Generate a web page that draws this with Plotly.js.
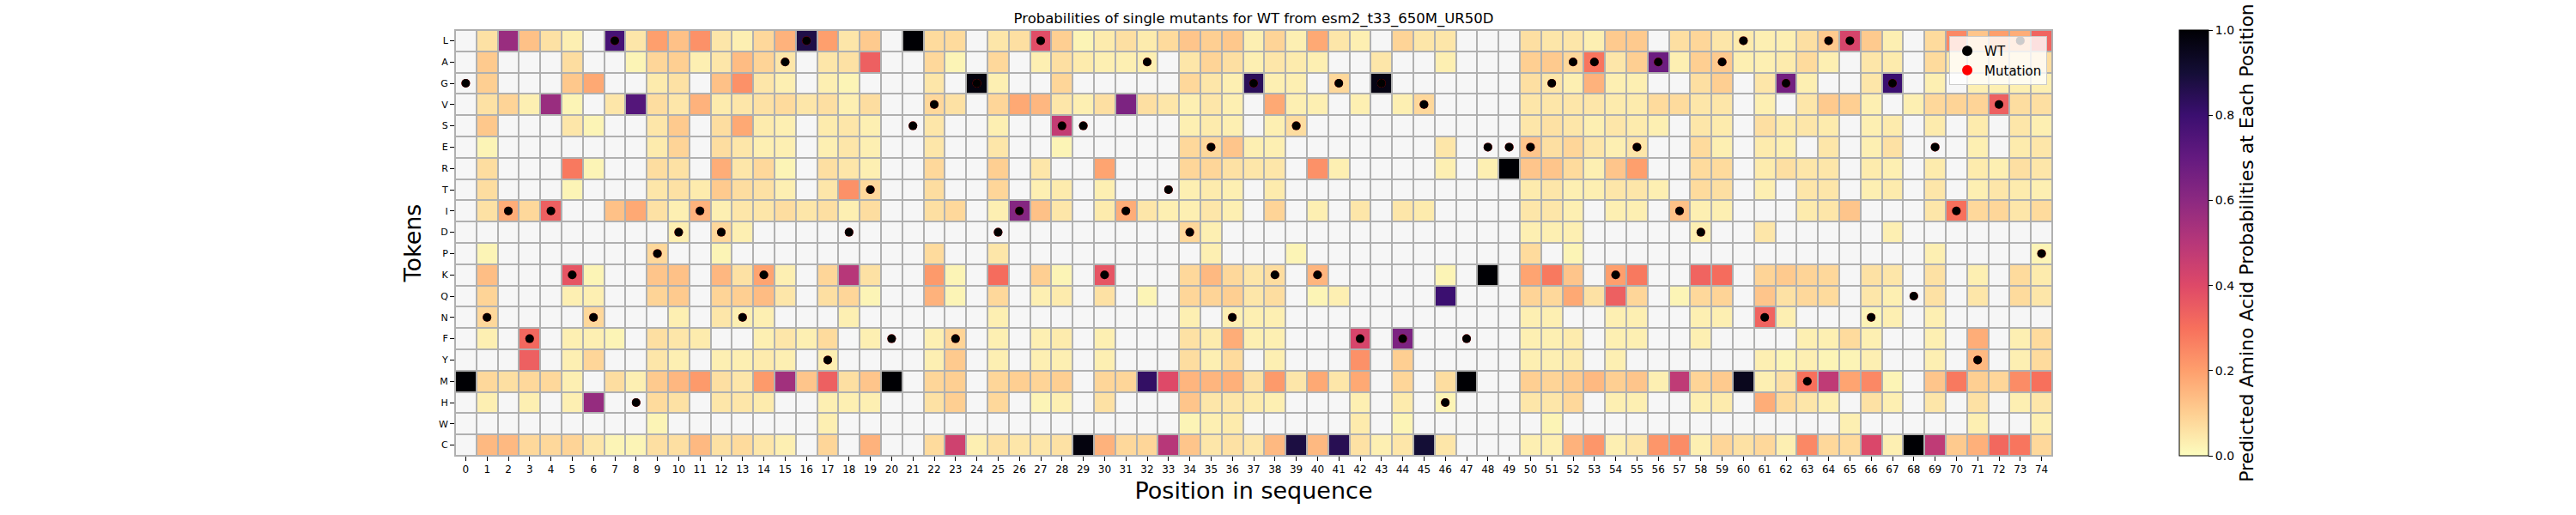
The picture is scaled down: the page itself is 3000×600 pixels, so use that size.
<!DOCTYPE html>
<html>
<head>
<meta charset="utf-8">
<script src="https://cdn.plot.ly/plotly-3.0.1.min.js"></script>
<style>
  body { margin: 0; background: #fff; }
  #heatmap_container { width: 3000px; height: 600px; }
</style>
</head>
<body>
<div id="heatmap_container"></div>
<script>
var _ = null; // masked cell (drawn grey)

var tokens = ['L', 'A', 'G', 'V', 'S', 'E', 'R', 'T', 'I', 'D', 'P', 'K', 'Q', 'N', 'F', 'Y', 'M', 'H', 'W', 'C'];
var positions = [];
for (var p = 0; p < 75; p++) positions.push(p);

var wtSeq = 'GNIFIKNLHPDIDNKALYDTFSVFGDILSSKIATDENGKSKGFGFVHFEEEGAAKEAIDALNGMLLNGQEIYVLP';
var mutSeq = wtSeq; // no visible difference to WT in the picture

// predicted probability per token, positions 0..74
var rowL = [_, .06, .57, .13, .06, .03, _, .77, .05, .20, .13, .23, .05, .03, .08, .16, .87, .20, .05,
  .11, _, 1.0, .075, .075, _, .05, .065, .39, .10, .02, .04, .065, .04, .075, .12, .10, .115, .03,
  .09, .03, .18, .05, .03, _, .09, .05, .05, _, _, _, .065, .05, .05, .03, .11, .11, _,
  .065, .085, .05, .04, .03, .03, .065, .11, .42, .11, .03, _, .075, .25, .12, .20, .17, .33];
var rowA = [_, .11, _, _, _, .07, _, _, .02, .085, .10, .03, .05, .14, .09, .05, _, .05, .06,
  .34, _, _, .08, .02, _, .08, _, .03, .065, .04, .03, .03, .03, _, .05, .09, .065, .03,
  .05, .04, .03, _, _, .05, _, _, .03, _, _, _, .10, .11, .08, .29, .05, .10, .68,
  .03, .10, .11, .03, .03, .04, .075, .03, _, .05, .04, _, .075, .05, .05, .07, .05, .07];
var rowG = [_, .10, _, _, _, .115, .18, _, _, .04, .06, _, .13, .23, .05, .03, _, .03, .02,
  _, _, _, .05, _, .98, .03, _, _, .085, _, _, _, _, _, .08, .05, .03, .84,
  .03, .03, _, .08, _, .97, _, _, _, _, _, _, .065, .05, .03, .16, .03, .03, _,
  _, .065, .10, _, .05, .66, .03, _, _, .05, .80, _, .03, _, .03, .03, .03, .03];
var rowV = [_, .06, .09, .03, .57, .02, _, .05, .74, .07, .05, .16, .04, .05, .06, .075, .05, .065, .03,
  .07, _, _, .08, .06, _, .085, .18, .15, .05, .03, .065, .64, .065, .05, .03, .05, .03, _,
  .18, .03, .03, _, .03, _, .03, .08, _, _, _, _, .05, .05, .05, .05, .04, .04, .075,
  .075, .05, .05, _, .03, _, .05, .11, .10, .03, _, .03, .08, .09, .09, .34, .07, .065];
var rowS = [_, .115, _, _, _, .05, .02, _, _, .05, .11, _, .07, .18, .04, .03, _, .04, .05,
  .03, _, _, .05, _, _, .03, _, _, .47, _, _, _, _, _, .03, .04, .03, _,
  .03, .07, _, _, _, _, _, _, _, _, _, _, .05, .06, .05, .03, .05, .04, .03,
  _, .05, .04, _, .065, .04, .05, .04, _, .03, .04, _, .04, _, .04, _, .05, .03];
var rowE = [_, .02, _, _, _, _, _, _, _, .04, .09, _, .07, .05, .03, .03, _, .03, .05,
  .03, _, _, .05, _, _, .05, _, _, .02, _, _, _, _, _, .08, .08, .12, .03,
  .03, _, _, _, _, _, _, _, .05, _, _, _, .12, .065, .085, .05, .03, .05, _,
  _, .075, .03, _, .04, .03, _, .05, _, .03, .06, _, _, _, .03, _, .04, .05];
var rowR = [_, .07, _, _, _, .28, .02, _, _, .07, .06, _, .17, .05, .08, .02, _, .065, .05,
  .03, _, _, .08, _, _, .10, _, .05, _, _, .19, _, _, _, .085, .085, .06, .05,
  .05, _, .23, .03, _, _, _, _, .03, _, .03, 1.0, .12, .12, .075, .03, .12, .20, _,
  _, .075, .075, _, .04, .065, .05, .05, _, .04, .03, _, .04, _, .04, .03, .065, .05];
var rowT = [_, .07, _, _, _, .02, _, _, _, .05, .06, .04, .11, .07, .06, .03, _, .05, .23,
  .08, _, _, .07, _, _, .085, _, .03, .04, _, .03, _, _, _, .03, .04, .03, _,
  .04, _, _, _, _, _, _, _, _, _, _, _, .04, .05, .03, .03, .05, .05, .03,
  _, .075, .065, _, .03, _, .05, .05, _, .03, .04, _, .05, _, .03, .05, .04, .03];
var rowI = [_, .06, .17, .08, .34, _, _, .13, .18, .06, .03, .16, .03, .05, .05, .07, .05, .065, .03,
  .07, _, _, .065, .08, _, .03, .62, .13, .05, _, .04, .17, .05, .03, .03, .05, .03, _,
  .09, _, .03, _, .05, _, .05, .04, _, _, _, _, .05, .05, .03, _, .03, .03, _,
  .13, .03, .03, _, _, _, .04, .05, .12, _, _, _, .05, .30, .08, .085, .05, .075];
var rowD = [_, _, _, _, _, _, _, _, _, _, .03, _, .08, .03, _, _, _, _, _,
  _, _, _, _, _, _, _, _, _, _, _, _, _, _, _, .08, .03, _, _,
  _, _, _, _, _, _, _, _, _, _, _, _, .03, .03, .03, _, _, _, _,
  _, .03, _, _, .05, _, _, _, _, _, .03, _, _, _, _, _, _, _];
var rowP = [_, .02, _, _, _, _, _, _, _, .08, _, _, .02, _, _, _, _, _, _,
  _, _, _, .075, _, _, .05, _, _, _, _, _, _, _, _, _, .03, _, _,
  _, .02, _, _, _, _, _, _, _, _, _, _, .075, _, .02, _, _, _, _,
  _, _, _, _, _, _, _, _, _, _, _, _, .03, _, _, _, _, .02];
var rowK = [_, .135, _, _, _, .37, .02, _, _, .12, .13, _, .15, .06, .19, .03, _, .085, .50,
  .06, _, _, .21, .02, _, .31, _, .10, .02, _, .37, _, _, _, .08, .145, .08, .05,
  .07, _, .155, _, _, _, _, _, .02, _, 1.0, _, .19, .28, .12, _, .20, .28, _,
  _, .33, .31, _, .09, .11, .09, .08, _, .06, .05, _, .06, _, .03, _, .075, .04];
var rowQ = [_, .09, _, _, _, .03, .03, _, _, .09, .11, _, .09, .10, .14, .05, _, .065, .085,
  .02, _, _, .16, .02, _, .08, _, .03, .04, _, .06, _, .02, _, .085, .09, .10, .05,
  .07, _, .02, .03, _, _, _, _, .80, _, _, _, .09, .08, .18, .06, .34, .085, _,
  .02, .08, .09, _, .12, .06, .08, .075, _, .05, .03, _, .06, _, .05, _, .075, .05];
var rowN = [_, .08, _, _, _, _, .08, _, _, _, .03, _, .05, .03, .03, _, _, _, .03,
  _, _, _, _, _, _, .03, _, _, _, _, _, _, _, _, .03, _, .03, .03,
  .03, _, _, _, _, _, _, _, _, _, _, _, .03, .03, _, _, .03, .03, _,
  _, .03, .03, _, .33, .03, _, _, _, .02, .03, _, .03, _, _, _, _, _];
var rowF = [_, .03, _, .32, _, .03, .03, .02, _, .065, .05, .04, _, _, .03, .05, .03, .075, _,
  .03, _, _, .03, .09, _, .03, _, .03, .04, _, .03, _, _, _, .06, .04, .17, .03,
  .03, _, _, _, .42, _, .64, _, _, _, _, _, .03, .03, .04, _, .03, .03, _,
  _, .03, _, _, _, _, .03, .03, .075, .03, _, _, .03, _, .17, _, .03, .075];
var rowY = [_, _, _, .34, _, .03, .085, _, _, .05, .03, _, .03, .03, .04, .03, _, .03, _,
  _, _, _, .03, .11, _, .03, _, .03, .03, _, .03, _, _, _, .07, .03, .075, _,
  .03, _, _, _, .23, _, .10, _, _, _, _, _, .03, .03, .04, _, .03, _, _,
  _, _, _, _, .03, .02, .03, .02, .02, .03, _, _, .03, _, .145, _, .03, .075];
var rowM = [1.0, .08, .065, .08, .08, .03, _, .07, .03, .11, .15, .21, .065, .05, .21, .55, .12, .34, .065,
  .12, 1.0, _, .085, .10, _, .085, .10, .09, .10, _, .085, .085, .82, .40, .155, .155, .165, .06,
  .21, .05, .18, .05, .18, _, .085, _, .07, 1.0, _, _, .10, .09, .11, .145, .10, .12, .03,
  .48, .09, .11, .95, .03, .06, .30, .48, .19, .25, .02, _, .12, .28, .10, .085, .24, .30];
var rowH = [_, .03, _, .03, _, .03, .58, _, _, .075, .06, _, .05, .05, .04, _, _, .03, .03,
  .03, _, _, .06, .10, _, .08, _, .02, .03, _, .06, _, _, _, .12, .05, .05, .04,
  .03, _, _, _, .03, _, .04, _, .02, _, _, _, .05, .05, .08, _, .03, .03, _,
  _, .03, .04, _, .17, .075, .05, .03, _, .06, .03, _, .05, _, .06, _, .03, .05];
var rowW = [_, _, _, _, _, _, _, _, _, .02, _, _, _, _, _, _, _, .03, _,
  _, _, _, _, _, _, _, _, _, _, _, _, _, _, _, .02, .03, .04, _,
  _, _, _, _, .04, _, .02, _, _, _, _, _, _, .02, _, _, _, _, _,
  _, _, _, _, _, _, _, _, .03, _, _, _, _, _, .03, _, _, .03];
var rowC = [_, .145, .145, .08, .08, .09, .05, .02, .02, .065, .065, .145, .06, .075, .05, .03, _, .085, _,
  .16, _, _, .075, .44, .03, .06, .05, .05, .06, .98, .16, .08, .085, .50, .12, .05, .06, .05,
  .145, .88, .145, .85, .06, .03, .05, .90, .05, _, _, _, .03, .03, .16, .22, .03, .05, .22,
  .24, .03, .085, .06, .08, .03, .25, .08, .075, .41, .03, 1.0, .48, .11, .165, .32, .29, .08];

var probs = [rowL, rowA, rowG, rowV, rowS, rowE, rowR, rowT, rowI, rowD,
             rowP, rowK, rowQ, rowN, rowF, rowY, rowM, rowH, rowW, rowC];

// matplotlib magma, reversed
var magmaR = [
  [0.0, '#fcfdbf'], [0.1, '#fecf92'], [0.2, '#fe9f6d'], [0.3, '#f7705c'],
  [0.4, '#de4968'], [0.5, '#b73779'], [0.6, '#8c2981'], [0.7, '#641a80'],
  [0.8, '#3b0f70'], [0.9, '#140e36'], [1.0, '#000004']
];

function seqToPoints(seq) {
    var xs = [], ys = [];
    for (var i = 0; i < seq.length; i++) {
        xs.push(positions[i]);
        ys.push(tokens.indexOf(seq[i]));
    }
    return {x: xs, y: ys};
}

function plotHeatmap() {
    var div = document.getElementById('heatmap_container');
    var rowIdx = tokens.map(function (t, i) { return i; });

    // grey layer under the masked cells
    var base = {
        type: 'heatmap',
        x: positions, y: rowIdx,
        z: tokens.map(function () { return positions.map(function () { return 0; }); }),
        colorscale: [[0, '#f6f6f6'], [1, '#f6f6f6']],
        showscale: false, hoverinfo: 'skip',
        xgap: 2, ygap: 2
    };

    var heat = {
        type: 'heatmap',
        x: positions, y: rowIdx, z: probs,
        zmin: 0, zmax: 1,
        colorscale: magmaR,
        xgap: 2, ygap: 2,
        hoverongaps: false,
        colorbar: {
            x: 1.0796, xanchor: 'left', xpad: 0,
            y: 0.5, yanchor: 'middle', ypad: 0,
            len: 1, thickness: 34,
            outlinewidth: 1, outlinecolor: '#000',
            ticks: 'outside', ticklen: 5, tickwidth: 1, tickcolor: '#000',
            tickvals: [0, 0.2, 0.4, 0.6, 0.8, 1.0],
            ticktext: ['0.0', '0.2', '0.4', '0.6', '0.8', '1.0'],
            tickfont: {size: 14},
            title: {text: 'Predicted Amino Acid Probabilities at Each Position', side: 'right', font: {size: 22}}
        }
    };

    var mut = seqToPoints(mutSeq);
    var wt = seqToPoints(wtSeq);

    var mutTrace = {
        type: 'scatter', mode: 'markers', name: 'Mutation',
        x: mut.x, y: mut.y, legendrank: 2,
        marker: {color: 'red', size: 10},
        hoverinfo: 'skip'
    };
    var wtTrace = {
        type: 'scatter', mode: 'markers', name: 'WT',
        x: wt.x, y: wt.y, legendrank: 1,
        marker: {color: 'black', size: 10},
        hoverinfo: 'skip'
    };

    var layout = {
        width: 3000, height: 600,
        margin: {l: 530, r: 610, t: 35, b: 69},
        paper_bgcolor: '#ffffff',
        plot_bgcolor: '#b0b0b0',
        font: {family: 'DejaVu Sans', color: '#000'},
        title: {
            text: 'Probabilities of single mutants for WT from esm2_t33_650M_UR50D',
            font: {size: 16.5},
            xref: 'paper', x: 0.5, xanchor: 'center',
            yref: 'container', y: 0.965, yanchor: 'middle'
        },
        xaxis: {
            range: [-0.5, 74.5],
            tickmode: 'array', tickvals: positions,
            ticktext: positions.map(String),
            ticks: 'outside', ticklen: 5, tickwidth: 1, tickcolor: '#000',
            tickfont: {size: 12},
            showgrid: false, zeroline: false,
            showline: true, mirror: true, linecolor: '#b0b0b0', linewidth: 1,
            title: {text: 'Position in sequence', font: {size: 27}, standoff: 8}
        },
        yaxis: {
            range: [19.5, -0.5],
            tickmode: 'array', tickvals: rowIdx, ticktext: tokens,
            ticks: 'outside', ticklen: 5, tickwidth: 1, tickcolor: '#000',
            tickfont: {size: 11},
            showgrid: false, zeroline: false,
            showline: true, mirror: true, linecolor: '#b0b0b0', linewidth: 1,
            title: {text: 'Tokens', font: {size: 27}, standoff: 12}
        },
        showlegend: true,
        legend: {
            x: 0.9968, xanchor: 'right', y: 0.986, yanchor: 'top',
            bgcolor: 'rgba(255,255,255,0.8)', bordercolor: '#cccccc', borderwidth: 1,
            font: {size: 15}, itemsizing: 'constant', tracegroupgap: 0
        }
    };

    Plotly.newPlot(div, [base, heat, mutTrace, wtTrace], layout, {staticPlot: true});
}

plotHeatmap();
</script>
</body>
</html>
